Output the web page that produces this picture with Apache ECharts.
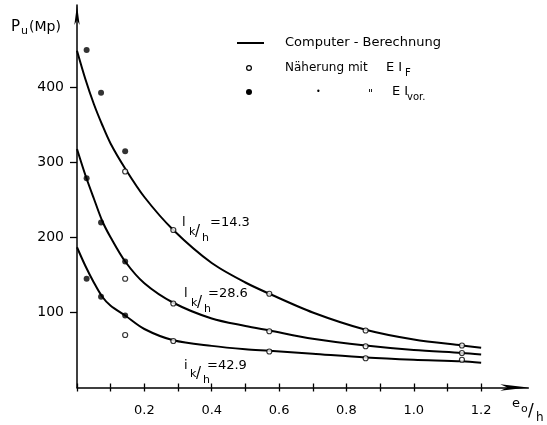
<!DOCTYPE html>
<html>
<head>
<meta charset="utf-8">
<script src="https://cdn.jsdelivr.net/npm/echarts@6/dist/echarts.min.js"></script>
<style>
html,body{margin:0;padding:0;background:#fff;}
#chart{width:547px;height:425px;}
</style>
</head>
<body>
<div id="chart"></div>
<script>
// ---- data ----
const curveX = [0, 0.025, 0.05, 0.075, 0.1, 0.143, 0.2, 0.286, 0.4, 0.5, 0.571, 0.7, 0.857, 1.0, 1.143, 1.2];
const curve14 = [449, 411, 378, 350, 325, 292, 254, 210, 166, 140, 125, 100, 77, 64, 56, 53];
const curve28 = [318, 283, 252, 222, 200, 168, 139, 113, 92, 82, 76, 65, 56, 50, 46, 44];
const curve42 = [187, 162, 140, 121, 109, 96, 78, 63, 55.5, 51, 49, 45, 40, 37, 35, 33];

const hollowX = [0.143, 0.286, 0.571, 0.857, 1.143];
const hollow14 = [288, 210, 125, 76, 56];
const hollow28 = [145, 112, 75, 55, 46];
const hollow42 = [70, 62, 48, 39, 37];

const filledX = [0.0286, 0.0714, 0.143];
const filled14 = [450, 393, 315];
const filled28 = [279, 220, 168];
const filled42 = [145, 121, 96];

const xTickValues = [0, 0.1, 0.2, 0.3, 0.4, 0.5, 0.6, 0.7, 0.8, 0.9, 1.0, 1.1, 1.2];
const xLabelValues = [0.2, 0.4, 0.6, 0.8, 1.0, 1.2];
const yTickValues = [100, 200, 300, 400];

const legendLine = 'Computer - Berechnung';
const legendHollow = 'Näherung mit';
const curveLabels = ['=14.3', '=28.6', '=42.9'];

// ---- build ----
const FONT = 'DejaVu Sans';
const INK = '#000';
const pairs = (xs, ys) => xs.map((x, i) => [x, ys[i]]);

function lineSeries(ys) {
  return {
    type: 'line', xAxisIndex: 0, yAxisIndex: 0,
    data: pairs(curveX, ys), smooth: 0.3,
    symbol: 'none', lineStyle: { color: INK, width: 2 }, silent: true, z: 2
  };
}
function hollowSeries(ys) {
  return {
    type: 'scatter', xAxisIndex: 0, yAxisIndex: 0,
    data: pairs(hollowX, ys), symbol: 'circle', symbolSize: 5,
    itemStyle: { color: '#fff', borderColor: INK, borderWidth: 1.2 }, z: 3
  };
}
function filledSeries(ys) {
  return {
    type: 'scatter', xAxisIndex: 0, yAxisIndex: 0,
    data: pairs(filledX, ys), symbol: 'circle', symbolSize: 6,
    itemStyle: { color: INK }, z: 3
  };
}

const chart = echarts.init(document.getElementById('chart'), null, { renderer: 'canvas' });

const txt = (x, y, text, size, extra) => ({
  type: 'text', x: x, y: y,
  style: Object.assign({ text: text, fontFamily: FONT, fontSize: size, fill: INK, verticalAlign: 'middle' }, extra || {})
});

chart.setOption({
  animation: false,
  backgroundColor: '#fff',
  grid: { left: 77, right: 18.7, top: 5, bottom: 37.5, containLabel: false },
  xAxis: [{
    type: 'value', min: 0, max: 1.34, interval: 0.1,
    axisLine: { show: true, onZero: false, lineStyle: { color: INK, width: 1.5 }, symbol: ['none', 'arrow'], symbolSize: [5, 28] },
    axisTick: { show: true, length: 4, customValues: xTickValues, lineStyle: { color: INK, width: 1.3 } },
    axisLabel: { show: true, customValues: xLabelValues, margin: 17, fontFamily: FONT, fontSize: 13, color: INK,
      formatter: v => v.toFixed(1) },
    splitLine: { show: false }
  }, {
    type: 'value', min: 0, max: 1.34, interval: 0.1, position: 'bottom',
    axisLine: { show: false, onZero: false },
    axisTick: { show: true, inside: true, length: 4, customValues: xTickValues, lineStyle: { color: INK, width: 1.3 } },
    axisLabel: { show: false },
    splitLine: { show: false }
  }],
  yAxis: {
    type: 'value', min: 0, max: 510, interval: 100,
    axisLine: { show: true, onZero: false, lineStyle: { color: INK, width: 1.5 }, symbol: ['none', 'arrow'], symbolSize: [4, 20] },
    axisTick: { show: true, length: 7, customValues: yTickValues, lineStyle: { color: INK, width: 1.3 } },
    axisLabel: { show: true, customValues: yTickValues, margin: 13, fontFamily: FONT, fontSize: 14, color: INK },
    splitLine: { show: false }
  },
  series: [
    lineSeries(curve14), lineSeries(curve28), lineSeries(curve42),
    hollowSeries(hollow14), hollowSeries(hollow28), hollowSeries(hollow42),
    filledSeries(filled14), filledSeries(filled28), filledSeries(filled42)
  ],
  graphic: [
    // axis names
    txt(11, 27, 'P', 15),
    txt(21, 31, 'u', 11),
    txt(29, 27, '(Mp)', 14),
    txt(512, 404, 'e', 13),
    txt(521, 409, 'o', 11),
    txt(528, 412, '/', 17),
    txt(536, 418, 'h', 12),
    // legend
    { type: 'line', shape: { x1: 237, y1: 43, x2: 264, y2: 43 }, style: { stroke: INK, lineWidth: 2 } },
    txt(285, 43, legendLine, 13),
    { type: 'circle', shape: { cx: 249, cy: 68, r: 2.4 }, style: { fill: '#fff', stroke: INK, lineWidth: 1.2 } },
    txt(285, 68, legendHollow, 12),
    txt(386, 68, 'E I', 13),
    txt(405, 73, 'F', 10),
    { type: 'circle', shape: { cx: 249, cy: 92, r: 3 }, style: { fill: INK } },
    txt(316, 92, '•', 8),
    txt(368, 94, '"', 11),
    txt(392, 92, 'E I', 13),
    txt(407, 97, 'vor.', 10),
    // curve labels
    txt(182, 223, 'l', 13), txt(189, 232, 'k', 11), txt(195, 232, '/', 15), txt(202, 238, 'h', 11),
    txt(210, 223, curveLabels[0], 13),
    txt(184, 294, 'l', 13), txt(191, 303, 'k', 11), txt(197, 303, '/', 15), txt(204, 309, 'h', 11),
    txt(208, 294, curveLabels[1], 13),
    txt(184, 366, 'i', 13), txt(190, 374, 'k', 11), txt(196, 374, '/', 15), txt(203, 380, 'h', 11),
    txt(207, 366, curveLabels[2], 13)
  ]
});
</script>
</body>
</html>
